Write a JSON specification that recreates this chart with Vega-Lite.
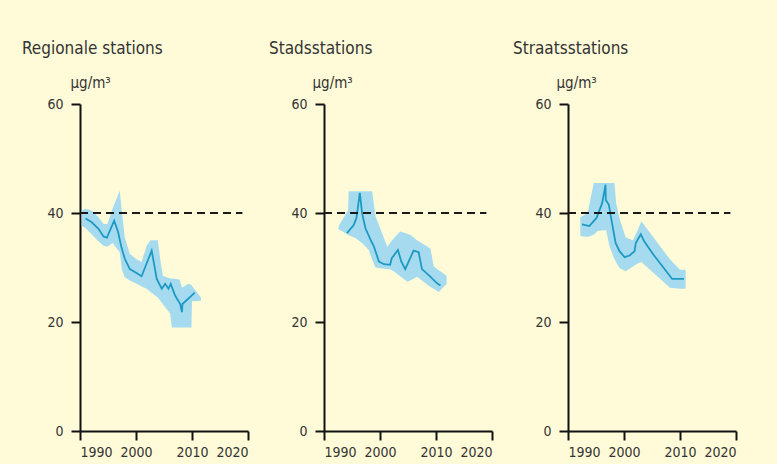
{
  "$schema": "https://vega.github.io/schema/vega-lite/v6.json",
  "background": "#fffbd8",
  "padding": {"left": 22, "top": 40, "right": 40, "bottom": 5},
  "bounds": "flush",
  "spacing": 76,
  "datasets": {
    "line": [
      {"s": "R", "year": 1991.0, "v": 39.0},
      {"s": "R", "year": 1992.1, "v": 38.3},
      {"s": "R", "year": 1993.3, "v": 37.1},
      {"s": "R", "year": 1994.2, "v": 35.7},
      {"s": "R", "year": 1994.8, "v": 35.5},
      {"s": "R", "year": 1996.1, "v": 38.6},
      {"s": "R", "year": 1996.8, "v": 36.5},
      {"s": "R", "year": 1997.4, "v": 33.7},
      {"s": "R", "year": 1998.0, "v": 31.6},
      {"s": "R", "year": 1998.9, "v": 29.7},
      {"s": "R", "year": 2000.1, "v": 29.0},
      {"s": "R", "year": 2001.0, "v": 28.4},
      {"s": "R", "year": 2002.8, "v": 33.1},
      {"s": "R", "year": 2003.7, "v": 27.9},
      {"s": "R", "year": 2004.6, "v": 26.1},
      {"s": "R", "year": 2005.2, "v": 27.0},
      {"s": "R", "year": 2005.8, "v": 26.1},
      {"s": "R", "year": 2006.2, "v": 27.0},
      {"s": "R", "year": 2007.0, "v": 24.8},
      {"s": "R", "year": 2007.9, "v": 23.3},
      {"s": "R", "year": 2008.2, "v": 21.8},
      {"s": "R", "year": 2008.3, "v": 23.3},
      {"s": "R", "year": 2010.5, "v": 25.4},
      {"s": "S", "year": 1994.1, "v": 36.3},
      {"s": "S", "year": 1995.3, "v": 37.8},
      {"s": "S", "year": 1995.8, "v": 39.1},
      {"s": "S", "year": 1996.4, "v": 43.7},
      {"s": "S", "year": 1996.8, "v": 40.0},
      {"s": "S", "year": 1997.4, "v": 37.2},
      {"s": "S", "year": 1998.3, "v": 35.1},
      {"s": "S", "year": 1998.9, "v": 33.9},
      {"s": "S", "year": 1999.8, "v": 31.1},
      {"s": "S", "year": 2000.7, "v": 30.6},
      {"s": "S", "year": 2001.8, "v": 30.5},
      {"s": "S", "year": 2002.1, "v": 31.7},
      {"s": "S", "year": 2003.2, "v": 33.2},
      {"s": "S", "year": 2003.8, "v": 31.1},
      {"s": "S", "year": 2004.5, "v": 29.7},
      {"s": "S", "year": 2006.0, "v": 33.1},
      {"s": "S", "year": 2006.9, "v": 32.8},
      {"s": "S", "year": 2007.5, "v": 29.7},
      {"s": "S", "year": 2008.7, "v": 28.6},
      {"s": "S", "year": 2010.2, "v": 27.1},
      {"s": "S", "year": 2010.8, "v": 26.7},
      {"s": "T", "year": 1992.5, "v": 37.9},
      {"s": "T", "year": 1993.8, "v": 37.6},
      {"s": "T", "year": 1995.1, "v": 39.1},
      {"s": "T", "year": 1996.1, "v": 41.8},
      {"s": "T", "year": 1996.7, "v": 45.2},
      {"s": "T", "year": 1996.75, "v": 42.4},
      {"s": "T", "year": 1997.3, "v": 41.5},
      {"s": "T", "year": 1997.7, "v": 39.1},
      {"s": "T", "year": 1998.5, "v": 34.5},
      {"s": "T", "year": 1999.2, "v": 33.0},
      {"s": "T", "year": 2000.1, "v": 31.9},
      {"s": "T", "year": 2001.0, "v": 32.2},
      {"s": "T", "year": 2001.9, "v": 33.0},
      {"s": "T", "year": 2002.1, "v": 34.5},
      {"s": "T", "year": 2003.0, "v": 36.1},
      {"s": "T", "year": 2003.6, "v": 34.8},
      {"s": "T", "year": 2005.3, "v": 32.3},
      {"s": "T", "year": 2007.1, "v": 29.9},
      {"s": "T", "year": 2008.6, "v": 27.9},
      {"s": "T", "year": 2010.7, "v": 27.9}
    ],
    "band": [
      {"s": "R", "year": 1990.3, "lo": 37.7, "hi": 40.4},
      {"s": "R", "year": 1991.0, "lo": 37.2, "hi": 40.8},
      {"s": "R", "year": 1992.0, "lo": 36.2, "hi": 40.5},
      {"s": "R", "year": 1993.3, "lo": 34.8, "hi": 39.2},
      {"s": "R", "year": 1994.2, "lo": 34.0, "hi": 38.0},
      {"s": "R", "year": 1994.9, "lo": 33.8, "hi": 38.0},
      {"s": "R", "year": 1995.8, "lo": 34.5, "hi": 40.8},
      {"s": "R", "year": 1997.1, "lo": 32.8, "hi": 44.1},
      {"s": "R", "year": 1997.5, "lo": 29.5, "hi": 40.0},
      {"s": "R", "year": 1998.0, "lo": 28.2, "hi": 35.5},
      {"s": "R", "year": 1998.9, "lo": 27.6, "hi": 32.5},
      {"s": "R", "year": 2000.1, "lo": 27.0, "hi": 31.5},
      {"s": "R", "year": 2001.0, "lo": 26.5, "hi": 31.0},
      {"s": "R", "year": 2001.9, "lo": 26.1, "hi": 34.0},
      {"s": "R", "year": 2002.6, "lo": 25.5, "hi": 35.0},
      {"s": "R", "year": 2003.9, "lo": 24.5, "hi": 35.0},
      {"s": "R", "year": 2004.4, "lo": 23.8, "hi": 31.0},
      {"s": "R", "year": 2004.8, "lo": 23.3, "hi": 28.5},
      {"s": "R", "year": 2006.1, "lo": 21.5, "hi": 28.0},
      {"s": "R", "year": 2006.4, "lo": 19.0, "hi": 28.0},
      {"s": "R", "year": 2007.8, "lo": 19.0, "hi": 27.8},
      {"s": "R", "year": 2008.2, "lo": 19.0, "hi": 26.3},
      {"s": "R", "year": 2009.3, "lo": 19.0, "hi": 27.0},
      {"s": "R", "year": 2009.9, "lo": 19.0, "hi": 26.8},
      {"s": "R", "year": 2010.0, "lo": 23.8, "hi": 26.6},
      {"s": "R", "year": 2011.6, "lo": 23.9, "hi": 24.5},
      {"s": "S", "year": 1992.6, "lo": 37.0, "hi": 37.6},
      {"s": "S", "year": 1994.3, "lo": 36.0, "hi": 40.5},
      {"s": "S", "year": 1994.4, "lo": 35.9, "hi": 44.0},
      {"s": "S", "year": 1995.6, "lo": 35.4, "hi": 44.0},
      {"s": "S", "year": 1996.8, "lo": 34.5, "hi": 44.0},
      {"s": "S", "year": 1998.0, "lo": 33.2, "hi": 44.0},
      {"s": "S", "year": 1998.6, "lo": 31.4, "hi": 44.0},
      {"s": "S", "year": 1999.2, "lo": 30.0, "hi": 39.4},
      {"s": "S", "year": 2001.3, "lo": 29.7, "hi": 33.8},
      {"s": "S", "year": 2001.8, "lo": 29.7, "hi": 34.5},
      {"s": "S", "year": 2002.6, "lo": 29.2, "hi": 35.5},
      {"s": "S", "year": 2003.6, "lo": 28.4, "hi": 36.6},
      {"s": "S", "year": 2004.9, "lo": 27.4, "hi": 36.2},
      {"s": "S", "year": 2005.4, "lo": 27.6, "hi": 36.0},
      {"s": "S", "year": 2006.6, "lo": 28.3, "hi": 35.0},
      {"s": "S", "year": 2009.0, "lo": 26.4, "hi": 33.5},
      {"s": "S", "year": 2009.6, "lo": 26.1, "hi": 30.2},
      {"s": "S", "year": 2010.5, "lo": 25.5, "hi": 29.5},
      {"s": "S", "year": 2011.9, "lo": 27.0, "hi": 28.5},
      {"s": "T", "year": 1992.2, "lo": 35.8, "hi": 39.2},
      {"s": "T", "year": 1993.5, "lo": 35.6, "hi": 40.0},
      {"s": "T", "year": 1994.6, "lo": 36.0, "hi": 45.5},
      {"s": "T", "year": 1995.3, "lo": 36.7, "hi": 45.5},
      {"s": "T", "year": 1996.8, "lo": 36.9, "hi": 45.5},
      {"s": "T", "year": 1997.4, "lo": 33.9, "hi": 45.5},
      {"s": "T", "year": 1998.3, "lo": 31.5, "hi": 45.5},
      {"s": "T", "year": 1998.6, "lo": 30.9, "hi": 41.8},
      {"s": "T", "year": 1999.2, "lo": 29.9, "hi": 39.0},
      {"s": "T", "year": 2000.3, "lo": 29.3, "hi": 35.5},
      {"s": "T", "year": 2001.6, "lo": 30.2, "hi": 35.0},
      {"s": "T", "year": 2002.5, "lo": 30.8, "hi": 37.0},
      {"s": "T", "year": 2003.1, "lo": 31.0, "hi": 38.5},
      {"s": "T", "year": 2008.2, "lo": 26.3, "hi": 31.5},
      {"s": "T", "year": 2010.0, "lo": 26.1, "hi": 29.6},
      {"s": "T", "year": 2011.0, "lo": 26.1, "hi": 29.6}
    ]
  },
  "hconcat": [
    {
      "width": 168, "height": 327,
      "title": {"text": "Regionale stations", "anchor": "start", "frame": "group", "dx": -58},
      "layer": [
        {"data": {"name": "band"}, "transform": [{"filter": "datum.s === 'R'"}],
         "mark": {"type": "area", "color": "#a6dbef", "opacity": 1},
         "encoding": {
           "x": {"field": "year", "type": "quantitative", "scale": {"domain": [1990, 2020]}, "axis": {"values": [1990, 2000, 2010, 2020], "format": "d", "title": null, "labelPadding": 5}},
           "y": {"field": "lo", "type": "quantitative", "scale": {"domain": [0, 60]}, "axis": {"values": [0, 20, 40, 60], "title": "µg/m³", "titleAngle": 0, "titleAlign": "left", "titleBaseline": "middle", "titleX": -10, "titleY": -22, "labelPadding": 8}},
           "y2": {"field": "hi"}
         }},
        {"data": {"name": "line"}, "transform": [{"filter": "datum.s === 'R'"}],
         "mark": {"type": "line", "color": "#1d9ac3", "strokeWidth": 1.8},
         "encoding": {"x": {"field": "year", "type": "quantitative"}, "y": {"field": "v", "type": "quantitative"}}},
        {"data": {"values": [{}]},
         "mark": {"type": "rule", "color": "#1a1a1a", "strokeWidth": 2, "strokeDash": [8, 5]},
         "encoding": {"y": {"datum": 40}, "x": {"datum": 1990}, "x2": {"datum": 2019}}}
      ]
    },
    {
      "width": 168, "height": 327,
      "title": {"text": "Stadsstations", "anchor": "start", "frame": "group", "dx": -55},
      "layer": [
        {"data": {"name": "band"}, "transform": [{"filter": "datum.s === 'S'"}],
         "mark": {"type": "area", "color": "#a6dbef", "opacity": 1},
         "encoding": {
           "x": {"field": "year", "type": "quantitative", "scale": {"domain": [1990, 2020]}, "axis": {"values": [1990, 2000, 2010, 2020], "format": "d", "title": null, "labelPadding": 5}},
           "y": {"field": "lo", "type": "quantitative", "scale": {"domain": [0, 60]}, "axis": {"values": [0, 20, 40, 60], "title": "µg/m³", "titleAngle": 0, "titleAlign": "left", "titleBaseline": "middle", "titleX": -12, "titleY": -22, "labelPadding": 8}},
           "y2": {"field": "hi"}
         }},
        {"data": {"name": "line"}, "transform": [{"filter": "datum.s === 'S'"}],
         "mark": {"type": "line", "color": "#1d9ac3", "strokeWidth": 1.8},
         "encoding": {"x": {"field": "year", "type": "quantitative"}, "y": {"field": "v", "type": "quantitative"}}},
        {"data": {"values": [{}]},
         "mark": {"type": "rule", "color": "#1a1a1a", "strokeWidth": 2, "strokeDash": [8, 5]},
         "encoding": {"y": {"datum": 40}, "x": {"datum": 1990}, "x2": {"datum": 2019}}}
      ]
    },
    {
      "width": 168, "height": 327,
      "title": {"text": "Straatsstations", "anchor": "start", "frame": "group", "dx": -55},
      "layer": [
        {"data": {"name": "band"}, "transform": [{"filter": "datum.s === 'T'"}],
         "mark": {"type": "area", "color": "#a6dbef", "opacity": 1},
         "encoding": {
           "x": {"field": "year", "type": "quantitative", "scale": {"domain": [1990, 2020]}, "axis": {"values": [1990, 2000, 2010, 2020], "format": "d", "title": null, "labelPadding": 5}},
           "y": {"field": "lo", "type": "quantitative", "scale": {"domain": [0, 60]}, "axis": {"values": [0, 20, 40, 60], "title": "µg/m³", "titleAngle": 0, "titleAlign": "left", "titleBaseline": "middle", "titleX": -12, "titleY": -22, "labelPadding": 8}},
           "y2": {"field": "hi"}
         }},
        {"data": {"name": "line"}, "transform": [{"filter": "datum.s === 'T'"}],
         "mark": {"type": "line", "color": "#1d9ac3", "strokeWidth": 1.8},
         "encoding": {"x": {"field": "year", "type": "quantitative"}, "y": {"field": "v", "type": "quantitative"}}},
        {"data": {"values": [{}]},
         "mark": {"type": "rule", "color": "#1a1a1a", "strokeWidth": 2, "strokeDash": [8, 5]},
         "encoding": {"y": {"datum": 40}, "x": {"datum": 1990}, "x2": {"datum": 2019}}}
      ]
    }
  ],
  "config": {
    "font": "Liberation Sans Narrow, DejaVu Sans Condensed, Roboto, sans-serif",
    "view": {"stroke": null},
    "axis": {
      "grid": false,
      "domainColor": "#111111", "domainWidth": 2,
      "tickColor": "#111111", "tickWidth": 2, "tickSize": 9,
      "labelFont": "Liberation Sans Narrow, DejaVu Sans Condensed, Roboto, sans-serif",
      "labelFontSize": 14, "labelColor": "#333333",
      "titleFont": "Liberation Sans Narrow, DejaVu Sans Condensed, Roboto, sans-serif",
      "titleFontSize": 15, "titleFontWeight": "normal", "titleColor": "#333333"
    },
    "title": {
      "font": "Liberation Sans Narrow, DejaVu Sans Condensed, Roboto, sans-serif",
      "fontSize": 17, "fontWeight": "normal", "color": "#333333", "offset": 17
    }
  }
}
